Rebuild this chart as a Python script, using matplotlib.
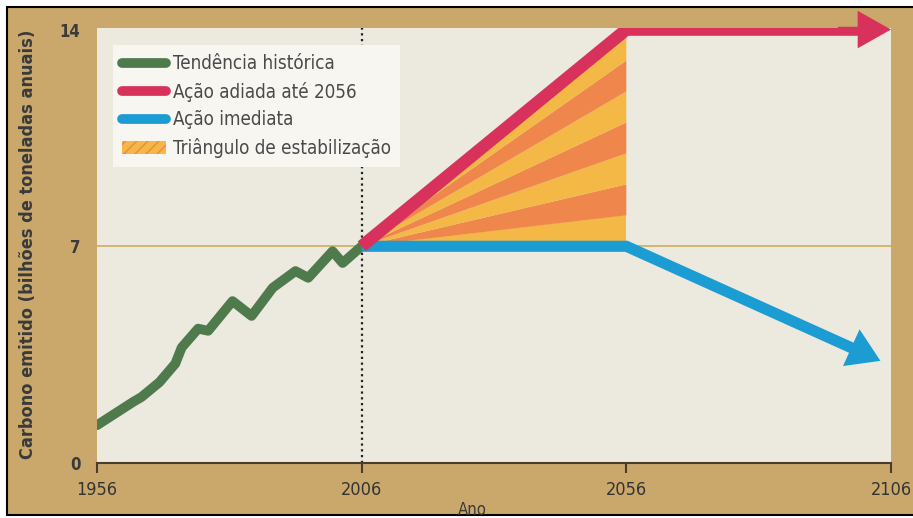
import matplotlib
matplotlib.use('Agg')
import matplotlib.pyplot as plt
from matplotlib import font_manager
from matplotlib.lines import Line2D
from matplotlib.patches import Patch, Rectangle

# historical trend
hist_years = [1956, 1962.8, 1964.4, 1967.8, 1970.8, 1972.0, 1975.1, 1977.0,
              1981.6, 1985.2, 1989.2, 1993.5, 1995.9, 2000.5, 2002.4, 2006]
hist_vals = [1.22, 1.97, 2.13, 2.61, 3.21, 3.73, 4.34, 4.27,
             5.23, 4.75, 5.66, 6.20, 5.98, 6.84, 6.46, 7.0]

# delayed action until 2056
late_years = [2006, 2056, 2106]
late_vals = [7, 14, 14]

# immediate action
now_years = [2006, 2056, 2104]
now_vals = [7, 7, 3.3]

# stabilization wedges (1 billion tons each in 2056)
n_wedges = 7
wedge_start = 2006
wedge_end = 2056

xticks = [1956, 2006, 2056, 2106]
yticks = [0, 7, 14]
labels = ['Tendência histórica', 'Ação adiada até 2056', 'Ação imediata',
          'Triângulo de estabilização']

tan = '#caa86c'
cream = '#ece9df'
green = '#4e7a4c'
red = '#d8325c'
blue = '#1b9cd3'
yellow = '#f3b845'
orange = '#ef874c'
txt = '#3a3a3a'

names = {f.name for f in font_manager.fontManager.ttflist}
FONT = 'Liberation Sans Narrow' if 'Liberation Sans Narrow' in names else 'DejaVu Sans'
plt.rcParams['font.family'] = [FONT, 'DejaVu Sans']
plt.rcParams['font.stretch'] = 'condensed'

fig = plt.figure(figsize=(9.13, 5.18), dpi=100, facecolor='white')
fig.patches.append(Rectangle((7 / 913, 3 / 518), 1.0, 508 / 518, transform=fig.transFigure,
                             facecolor=tan, edgecolor='black', lw=1.5, zorder=-10))

ax = fig.add_axes([97 / 913, 55 / 518, 794 / 913, 435 / 518])
ax.set_facecolor(cream)
ax.set_xlim(1956, 2106)
ax.set_ylim(0, 14.05)

ax.axhline(7, color='#cfae5f', lw=1.2, zorder=1)
ax.axvline(2006, color='#222222', lw=1.6, ls=(0, (1, 1.6)), zorder=1.5)

for k in range(n_wedges):
    c = yellow if k % 2 == 0 else orange
    ax.fill([wedge_start, wedge_end, wedge_end], [7, 7 + k, 7 + k + 1],
            color=c, lw=0, zorder=2)

ax.plot(hist_years, hist_vals, color=green, lw=7, solid_capstyle='round',
        solid_joinstyle='round', zorder=4)

ax.plot(late_years[:2] + [late_years[2] - 3], late_vals, color=red, lw=9,
        solid_joinstyle='miter', solid_capstyle='butt', zorder=5)
ax.annotate('', xy=(late_years[2], late_vals[2]), xytext=(late_years[2] - 10, late_vals[2]),
            arrowprops=dict(width=4, headwidth=27, headlength=24, facecolor=red,
                            edgecolor='none', shrink=0), annotation_clip=False, zorder=5)

dx = now_years[2] - now_years[1]
dy = now_vals[2] - now_vals[1]
ax.plot(now_years[:2] + [now_years[1] + dx * 0.93], now_vals[:2] + [now_vals[1] + dy * 0.93],
        color=blue, lw=8, solid_joinstyle='miter', solid_capstyle='butt', zorder=4.5)
ax.annotate('', xy=(now_years[2], now_vals[2]),
            xytext=(now_years[1] + dx * 0.7, now_vals[1] + dy * 0.7),
            arrowprops=dict(width=4, headwidth=29, headlength=23, facecolor=blue,
                            edgecolor='none', shrink=0), annotation_clip=False, zorder=4.5)

for s in ['top', 'right', 'left']:
    ax.spines[s].set_visible(False)
ax.spines['bottom'].set_color('#4a3d2c')
ax.spines['bottom'].set_linewidth(1.5)
ax.set_xticks(xticks)
ax.set_yticks(yticks)
ax.tick_params(axis='x', direction='out', length=7, width=1.5, color='#4a3d2c',
               labelsize=13, labelcolor='#333333', pad=6)
ax.tick_params(axis='y', length=0, labelsize=12, labelcolor=txt, pad=12)
for t in ax.get_yticklabels():
    t.set_fontweight('bold')

fig.text(28 / 913, 0.5 + 15 / 518, 'Carbono emitido (bilhões de toneladas anuais)',
         rotation=90, ha='center', va='center', fontsize=13, fontweight='bold', color=txt)
fig.text(472 / 913, 1 - 501 / 518, 'Ano', ha='center', va='top', fontsize=12, color=txt)

handles = [Line2D([], [], color=green, lw=7, solid_capstyle='round'),
           Line2D([], [], color=red, lw=7, solid_capstyle='round'),
           Line2D([], [], color=blue, lw=7, solid_capstyle='round'),
           Patch(facecolor=yellow, edgecolor=orange, hatch='///', lw=0)]
leg = ax.legend(handles, labels, loc='upper left', bbox_to_anchor=(16 / 794, 1 - 17 / 435),
                borderaxespad=0, fontsize=13.5, frameon=True, fancybox=False,
                facecolor='#f7f6f1', edgecolor='none', framealpha=1,
                handlelength=2.3, handletextpad=0.4, labelspacing=0.45, borderpad=0.5)
for t in leg.get_texts():
    t.set_color('#4a4a4a')
leg.set_zorder(10)

fig.savefig('out.png', dpi=100, facecolor='white')
